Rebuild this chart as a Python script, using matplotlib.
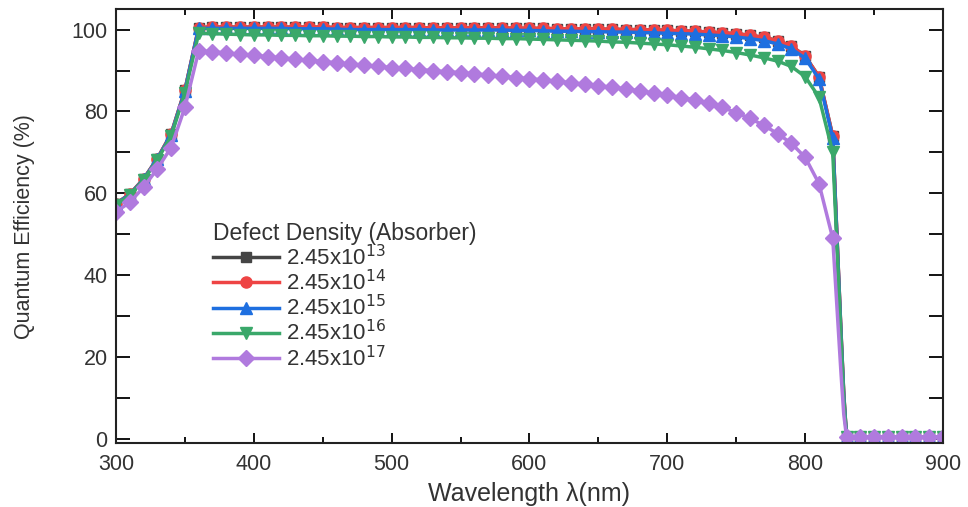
import numpy as np
import matplotlib.pyplot as plt

plt.rcParams['font.family'] = ['Liberation Sans', 'DejaVu Sans']

# wavelength grid (nm); a few extra points on the steep band-edge drop
wavelength = [300, 310, 320, 330, 340, 350, 360, 370, 380, 390,
              400, 410, 420, 430, 440, 450, 460, 470, 480, 490,
              500, 510, 520, 530, 540, 550, 560, 570, 580, 590,
              600, 610, 620, 630, 640, 650, 660, 670, 680, 690,
              700, 710, 720, 730, 740, 750, 760, 770, 780, 790,
              800, 810, 820, 822, 824, 826, 828,
              830, 840, 850, 860, 870, 880, 890, 900]

tail = [0.5, 0.6, 0.5, 0.6, 0.5, 0.6, 0.5, 0.6]

qe_1e13 = [57.5, 59.8, 63.5, 68.5, 74.5, 85.2, 100.5, 100.6, 100.6, 100.6,
           100.6, 100.6, 100.6, 100.6, 100.6, 100.6, 100.5, 100.5, 100.5, 100.5,
           100.5, 100.5, 100.5, 100.4, 100.4, 100.4, 100.4, 100.4, 100.4, 100.3,
           100.3, 100.3, 100.2, 100.2, 100.2, 100.1, 100.1, 100.0, 100.0, 99.9,
           99.8, 99.7, 99.6, 99.4, 99.2, 99.0, 98.6, 98.1, 97.3, 96.0,
           93.5, 88.5, 74.0, 58.0, 42.0, 26.0, 11.0] + tail

qe_1e14 = [57.5, 59.8, 63.5, 68.5, 74.5, 85.2, 100.5, 100.6, 100.6, 100.6,
           100.6, 100.6, 100.6, 100.6, 100.6, 100.6, 100.5, 100.5, 100.5, 100.5,
           100.5, 100.5, 100.5, 100.4, 100.4, 100.4, 100.4, 100.4, 100.4, 100.3,
           100.3, 100.3, 100.2, 100.2, 100.2, 100.1, 100.1, 100.0, 100.0, 99.9,
           99.8, 99.7, 99.6, 99.4, 99.2, 99.0, 98.6, 98.1, 97.3, 96.0,
           93.5, 88.5, 74.0, 58.0, 42.0, 26.0, 11.0] + tail

qe_1e15 = [57.4, 59.7, 63.4, 68.4, 74.3, 85.0, 100.3, 100.3, 100.3, 100.3,
           100.3, 100.3, 100.3, 100.2, 100.2, 100.2, 100.1, 100.0, 100.0, 100.0,
           100.0, 100.0, 100.0, 99.9, 99.9, 99.9, 99.9, 99.9, 99.9, 99.8,
           99.8, 99.7, 99.6, 99.6, 99.5, 99.5, 99.4, 99.4, 99.3, 99.2,
           99.1, 99.0, 98.9, 98.7, 98.5, 98.2, 97.8, 97.3, 96.5, 95.3,
           93.0, 88.0, 73.5, 57.5, 41.5, 25.5, 10.5] + tail

qe_1e16 = [57.2, 59.5, 63.3, 68.2, 74.0, 84.5, 99.1, 99.0, 98.9, 98.8,
           98.7, 98.7, 98.6, 98.6, 98.5, 98.5, 98.4, 98.4, 98.3, 98.3,
           98.2, 98.2, 98.1, 98.1, 98.0, 98.0, 97.9, 97.9, 97.8, 97.8,
           97.7, 97.6, 97.5, 97.4, 97.3, 97.2, 97.0, 96.9, 96.7, 96.5,
           96.3, 96.0, 95.7, 95.3, 94.9, 94.4, 93.8, 93.1, 92.3, 91.0,
           88.5, 83.5, 70.0, 55.0, 40.0, 24.5, 9.5] + tail

qe_1e17 = [55.5, 57.8, 61.5, 66.0, 71.2, 81.0, 94.8, 94.6, 94.3, 94.0,
           93.7, 93.4, 93.1, 92.8, 92.5, 92.2, 91.9, 91.6, 91.3, 91.0,
           90.7, 90.5, 90.2, 90.0, 89.7, 89.5, 89.2, 88.9, 88.6, 88.3,
           88.0, 87.7, 87.4, 87.0, 86.7, 86.3, 85.9, 85.5, 85.0, 84.5,
           84.0, 83.4, 82.8, 82.1, 81.0, 79.7, 78.3, 76.6, 74.6, 72.2,
           68.8, 62.4, 49.0, 38.0, 27.0, 16.0, 6.0] + tail

labels = [r'2.45x10$^{13}$', r'2.45x10$^{14}$', r'2.45x10$^{15}$',
          r'2.45x10$^{16}$', r'2.45x10$^{17}$']
series = [qe_1e13, qe_1e14, qe_1e15, qe_1e16, qe_1e17]
colors = ['#454545', '#EE4444', '#1E6FE0', '#3AA86A', '#B07ADE']
markers = ['s', 'o', '^', 'v', 'D']
msizes = [6.5, 8, 9, 9, 8]

wl = np.array(wavelength)
marks = (wl % 10 == 0)

fig = plt.figure(figsize=(9.68, 5.07), dpi=100)
ax = fig.add_axes([0.1198, 0.126, 0.8544, 0.856])

for y, lab, c, m, ms in zip(series, labels, colors, markers, msizes):
    ax.plot(wl, y, color=c, lw=2.5, marker=m, markersize=ms,
            markevery=marks, label=lab)

ax.set_xlim(300, 900)
ax.set_ylim(-1, 105)
ax.set_xticks([300, 400, 500, 600, 700, 800, 900])
ax.set_xticks([350, 450, 550, 650, 750, 850], minor=True)
ax.set_yticks([0, 20, 40, 60, 80, 100])
ax.set_yticks([10, 30, 50, 70, 90], minor=True)

ax.tick_params(which='both', direction='in', top=True, right=True,
               labelsize=15.5, labelcolor='#333333', width=1.3)
ax.tick_params(axis='y', which='both', length=10, pad=6)
ax.tick_params(axis='x', which='major', length=7, pad=8)
ax.tick_params(axis='x', which='minor', length=4)
for sp in ax.spines.values():
    sp.set_linewidth(1.5)
    sp.set_color('#222222')

ax.set_xlabel('Wavelength λ(nm)', fontsize=18, color='#333333', labelpad=5)
ax.set_ylabel('Quantum Efficiency (%)', fontsize=15.5, color='#333333', labelpad=26)

leg = ax.legend(title='Defect Density (Absorber)', loc='upper left',
                bbox_to_anchor=(0.117, 0.51), frameon=False, fontsize=16,
                title_fontsize=16.5, handlelength=3.0, handletextpad=0.3,
                labelspacing=0.0, borderpad=0, borderaxespad=0, numpoints=1,
                alignment='left')
for t in leg.get_texts():
    t.set_color('#333333')
leg.get_title().set_color('#333333')

fig.savefig('out.png', dpi=100)
